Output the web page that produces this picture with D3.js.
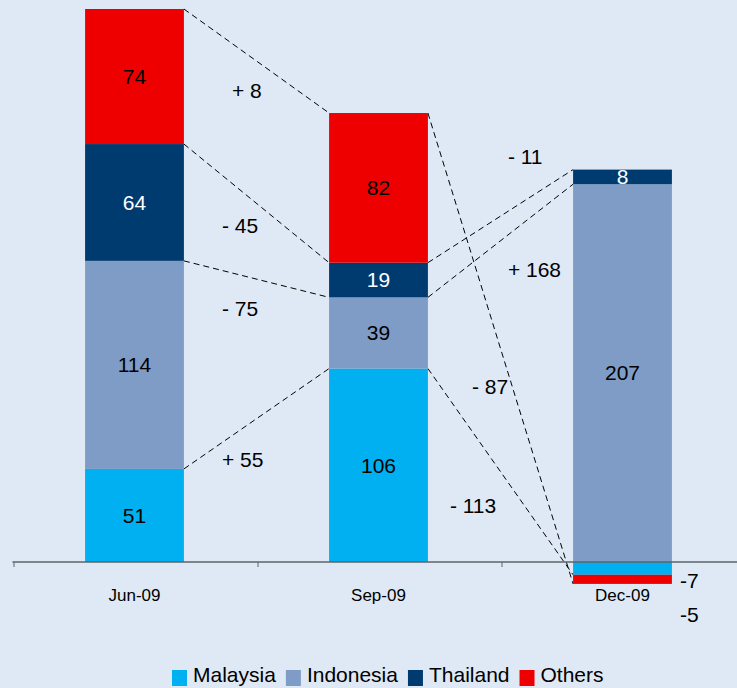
<!DOCTYPE html>
<html>
<head>
<meta charset="utf-8">
<script src="https://cdn.jsdelivr.net/npm/d3@7"></script>
<style>
    body { margin: 0; background: #dee9f5; }
    #chart-area { width: 737px; height: 688px; }
    text { font-family: Arial, "Liberation Sans", sans-serif; }
</style>
</head>
<body>
<div id="chart-area"></div>
<script>

// chart data
const periods = ["Jun-09", "Sep-09", "Dec-09"];
const countries = ["Malaysia", "Indonesia", "Thailand", "Others"];
const malaysia = [51, 106, -7];
const indonesia = [114, 39, 207];
const thailand = [64, 19, 8];
const others = [74, 82, -5];

// where the change labels sit: dx from the left bar's right edge, level in chart units
const changeLabelPos = [
    [{dx: 38, level: 52}, {dx: 38, level: 135}, {dx: 38, level: 180}, {dx: 48, level: 254}],
    [{dx: 22, level: 27}, {dx: 80, level: 156}, {dx: 80, level: 218}, {dx: 44, level: 92}]
];

class StackedBridge {
    constructor(parentElement){
        this.parentElement = parentElement;
        this.initVis();
    }

    initVis(){
        let vis = this;

        vis.width = 737;
        vis.height = 688;
        vis.baseline = 562;

        vis.svg = d3.select("#" + vis.parentElement).append("svg")
            .attr("width", vis.width)
            .attr("height", vis.height);

        vis.svg.append("rect")
            .attr("width", vis.width)
            .attr("height", vis.height)
            .attr("fill", "#dee9f5");

        vis.x = d3.scaleBand()
            .domain(periods)
            .range([12.5, 744.5])
            .paddingInner(0.595)
            .paddingOuter(0.2975);

        vis.y = d3.scaleLinear()
            .range([vis.baseline, 9]);

        vis.color = d3.scaleOrdinal()
            .domain(countries)
            .range(["#00b0f0", "#7f9cc6", "#003b6f", "#ee0000"]);

        vis.textColor = d3.scaleOrdinal()
            .domain(countries)
            .range(["#000", "#000", "#fff", "#000"]);

        vis.wrangleData();
    }

    wrangleData(){
        let vis = this;

        let series = [malaysia, indonesia, thailand, others];
        vis.rows = periods.map((p, i) => {
            let row = {period: p};
            countries.forEach((c, j) => row[c] = series[j][i]);
            return row;
        });

        vis.stacked = d3.stack()
            .keys(countries)
            .offset(d3.stackOffsetDiverging)(vis.rows);

        vis.updateVis();
    }

    updateVis(){
        let vis = this;

        vis.y.domain([0, d3.max(vis.stacked, s => d3.max(s, d => d[1]))]);
        let bw = vis.x.bandwidth();

        // dashed connectors between the ends of each segment
        let ends = s => s.map(d => (d[1] - d[0]) < 0 || d.data[s.key] < 0 ? d[0] : d[1]);
        vis.stacked.forEach((s, k) => {
            let e = ends(s);
            for (let i = 0; i < periods.length - 1; i++) {
                vis.svg.append("line")
                    .attr("x1", vis.x(periods[i]) + bw)
                    .attr("y1", vis.y(e[i]))
                    .attr("x2", vis.x(periods[i + 1]))
                    .attr("y2", vis.y(e[i + 1]))
                    .attr("stroke", "#000")
                    .attr("stroke-width", 1)
                    .attr("stroke-dasharray", "6,4");

                let diff = s[i + 1].data[s.key] - s[i].data[s.key];
                let pos = changeLabelPos[i][k];
                vis.svg.append("text")
                    .attr("x", vis.x(periods[i]) + bw + pos.dx)
                    .attr("y", vis.y(pos.level))
                    .style("font-size", "21px")
                    .attr("fill", "#000")
                    .text((diff >= 0 ? "+ " : "- ") + Math.abs(diff));
            }
        });

        // bars
        vis.groups = vis.svg.selectAll(".country")
            .data(vis.stacked)
            .enter()
            .append("g")
            .attr("class", "country")
            .attr("fill", d => vis.color(d.key));

        vis.groups.selectAll("rect")
            .data(d => d)
            .enter()
            .append("rect")
            .attr("x", d => vis.x(d.data.period))
            .attr("y", d => vis.y(Math.max(d[0], d[1])))
            .attr("width", bw)
            .attr("height", d => Math.abs(vis.y(d[0]) - vis.y(d[1])));

        // value labels
        let outside = 0;
        vis.stacked.forEach(s => {
            s.forEach(d => {
                let v = d.data[s.key];
                let h = Math.abs(vis.y(d[0]) - vis.y(d[1]));
                let label = vis.svg.append("text")
                    .style("font-size", "21px")
                    .text(v);
                if (v < 0 && h < 20) {
                    label.attr("x", vis.x(d.data.period) + bw + 8)
                        .attr("y", vis.baseline + 26 + outside * 34)
                        .attr("fill", "#000");
                    outside += 1;
                } else {
                    label.attr("x", vis.x(d.data.period) + bw / 2)
                        .attr("y", (vis.y(d[0]) + vis.y(d[1])) / 2)
                        .attr("dy", "0.35em")
                        .attr("text-anchor", "middle")
                        .attr("fill", vis.textColor(s.key));
                }
            });
        });

        // x axis: line with ticks at the band edges
        let axis = vis.svg.append("g").attr("class", "x axis");
        let x0 = vis.x.range()[0];
        axis.append("line")
            .attr("x1", x0)
            .attr("x2", vis.width)
            .attr("y1", vis.baseline)
            .attr("y2", vis.baseline)
            .attr("stroke", "#5f6368")
            .attr("stroke-width", 1.5);
        for (let i = 0; i <= periods.length; i++) {
            axis.append("line")
                .attr("x1", x0 + 1.5 + i * vis.x.step())
                .attr("x2", x0 + 1.5 + i * vis.x.step())
                .attr("y1", vis.baseline)
                .attr("y2", vis.baseline + 5)
                .attr("stroke", "#5f6368")
                .attr("stroke-width", 1);
        }
        axis.selectAll(".tick-label")
            .data(periods)
            .enter()
            .append("text")
            .attr("class", "tick-label")
            .attr("x", d => vis.x(d) + bw / 2)
            .attr("y", 601)
            .attr("text-anchor", "middle")
            .style("font-size", "17px")
            .attr("fill", "#000")
            .text(d => d);

        // legend
        vis.legend = vis.svg.append("g");
        let lx = 172;
        countries.forEach(c => {
            vis.legend.append("rect")
                .attr("x", lx)
                .attr("y", 670)
                .attr("width", 15)
                .attr("height", 16)
                .attr("fill", vis.color(c));
            let t = vis.legend.append("text")
                .attr("x", lx + 21)
                .attr("y", 682)
                .style("font-size", "21px")
                .attr("fill", "#000")
                .text(c);
            lx += 21 + t.node().getComputedTextLength() + 10;
        });
    }
}

new StackedBridge("chart-area");
</script>
</body>
</html>
